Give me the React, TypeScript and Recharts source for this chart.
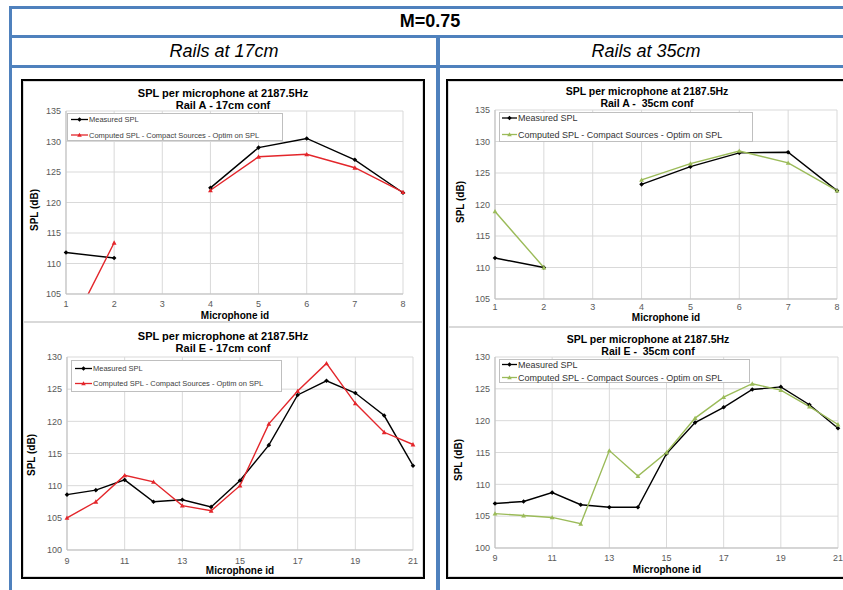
import React from 'react';
import { LineChart, Line, XAxis, YAxis, CartesianGrid, Legend } from 'recharts';

const FONT = '"Liberation Sans", Arial, Helvetica, sans-serif';
const BLUE = '#4f81bd';
const GRID = '#d9d9d9';
const AXIS = '#bfbfbf';
const RED = '#e3262b';
const GREEN = '#9bbb59';

// microphone ids
const railAMics = [1, 2, 3, 4, 5, 6, 7, 8];
const railEMics = [9, 10, 11, 12, 13, 14, 15, 16, 17, 18, 19, 20, 21];

// tick labels
const railATicks = [1, 2, 3, 4, 5, 6, 7, 8];
const railETicks = [9, 11, 13, 15, 17, 19, 21];
const railASplTicks = [105, 110, 115, 120, 125, 130, 135];
const railESplTicks = [100, 105, 110, 115, 120, 125, 130];

// SPL (dB), null = no microphone 3 on rail A
const railA17Measured = [111.8, 110.9, null, 122.4, 129.0, 130.5, 127.0, 121.6];
const railA17Computed = [97.8, 113.4, null, 122.0, 127.5, 127.9, 125.7, 121.7];
const railA35Measured = [111.5, 110.0, null, 123.2, 126.0, 128.2, 128.3, 122.2];
const railA35Computed = [118.9, 110.0, null, 123.9, 126.5, 128.5, 126.6, 122.2];

const railE17Measured = [108.6, 109.3, 110.9, 107.5, 107.8, 106.7, 110.8, 116.3, 124.1, 126.3, 124.4, 120.9, 113.1];
const railE17Computed = [105.0, 107.5, 111.6, 110.6, 106.9, 106.1, 110.0, 119.6, 124.7, 129.0, 122.8, 118.3, 116.4];
const railE35Measured = [107.0, 107.3, 108.7, 106.8, 106.4, 106.4, 114.8, 119.7, 122.1, 124.9, 125.3, 122.5, 118.8];
const railE35Computed = [105.4, 105.1, 104.8, 103.8, 115.3, 111.3, 115.0, 120.4, 123.7, 125.8, 124.8, 122.2, 119.4];

const MEASURED_LABEL = 'Measured SPL';
const COMPUTED_LABEL = 'Computed SPL - Compact Sources -  Optim on SPL';

type Row = { mic: number; measured: number | null; computed: number | null };

const buildRows = (mics: number[], measured: (number | null)[], computed: (number | null)[]): Row[] =>
  mics.map((mic, i) => ({ mic, measured: measured[i], computed: computed[i] }));

const diamond = (cx: number, cy: number, r: number) =>
  `M${cx},${cy - r}L${cx + r},${cy}L${cx},${cy + r}L${cx - r},${cy}Z`;
const triangle = (cx: number, cy: number, r: number) =>
  `M${cx},${cy - r}L${cx + r},${cy + r * 0.8}L${cx - r},${cy + r * 0.8}Z`;

const makeDot = (shape: 'diamond' | 'triangle', color: string) => (p: any) => {
  const { cx, cy, index, value } = p;
  if (cx == null || cy == null || value == null) return <g key={`n${index}`} />;
  const d = shape === 'diamond' ? diamond(cx, cy, 2.3) : triangle(cx, cy, 2.4);
  return <path key={`p${index}`} d={d} fill={color} stroke="none" />;
};

interface LegendBox {
  left: number;
  top: number;
  width: number;
  height: number;
  fontSize: number;
  rows: [number, number];
  sample: [number, number];
  textColor: string;
}

const legendContent = (box: LegendBox, computedColor: string) => () => {
  const [s0, s1] = box.sample;
  const mid = (s0 + s1) / 2;
  const entries = [
    { label: MEASURED_LABEL, color: '#000', shape: 'diamond' as const },
    { label: COMPUTED_LABEL, color: computedColor, shape: 'triangle' as const },
  ];
  return (
    <svg width={box.width} height={box.height} style={{ display: 'block' }}>
      <rect x={0.5} y={0.5} width={box.width - 1} height={box.height - 1} fill="#fff" stroke={AXIS} />
      {entries.map((e, i) => (
        <g key={e.label}>
          <line x1={s0} x2={s1} y1={box.rows[i]} y2={box.rows[i]} stroke={e.color} strokeWidth={1.3} />
          <path d={e.shape === 'diamond' ? diamond(mid, box.rows[i], 2.2) : triangle(mid, box.rows[i], 2.3)} fill={e.color} />
          <text x={s1 + 1} y={box.rows[i]} dy="0.35em" fontFamily={FONT} fontSize={box.fontSize} fill={box.textColor}>
            {e.label}
          </text>
        </g>
      ))}
    </svg>
  );
};

interface PanelProps {
  left: number;
  top: number;
  width: number;
  height: number;
  data: Row[];
  xDomain: [number, number];
  xTicks: number[];
  yDomain: [number, number];
  yTicks: number[];
  yAxisWidth: number;
  xAxisHeight: number;
  margin: { top: number; right: number; left: number; bottom: number };
  xTickGap: number;
  computedColor: string;
  legend: LegendBox;
}

function Panel(props: PanelProps) {
  const tickStyle = { fontSize: 9, fill: '#595959', fontFamily: FONT };
  return (
    <div style={{ position: 'absolute', left: props.left, top: props.top, width: props.width, height: props.height }}>
      <LineChart width={props.width} height={props.height} data={props.data} margin={props.margin}>
        <CartesianGrid stroke={GRID} strokeWidth={1} />
        <XAxis
          dataKey="mic"
          type="number"
          domain={props.xDomain}
          ticks={props.xTicks}
          interval={0}
          height={props.xAxisHeight}
          tick={tickStyle}
          tickLine={false}
          tickSize={props.xTickGap - 2}
          tickMargin={2}
          axisLine={{ stroke: AXIS }}
        />
        <YAxis
          type="number"
          domain={props.yDomain}
          ticks={props.yTicks}
          allowDataOverflow
          interval={0}
          width={props.yAxisWidth}
          tick={tickStyle}
          tickLine={false}
          tickSize={4}
          tickMargin={1}
          axisLine={{ stroke: AXIS }}
        />
        <Legend
          layout="horizontal"
          align="center"
          verticalAlign="middle"
          wrapperStyle={{
            left: props.legend.left,
            top: props.legend.top,
            width: props.legend.width,
            height: props.legend.height,
          }}
          content={legendContent(props.legend, props.computedColor)}
        />
        <Line
          type="linear"
          dataKey="measured"
          name={MEASURED_LABEL}
          stroke="#000"
          strokeWidth={1.4}
          dot={makeDot('diamond', '#000')}
          activeDot={false}
          isAnimationActive={false}
        />
        <Line
          type="linear"
          dataKey="computed"
          name={COMPUTED_LABEL}
          stroke={props.computedColor}
          strokeWidth={1.4}
          dot={makeDot('triangle', props.computedColor)}
          activeDot={false}
          isAnimationActive={false}
        />
      </LineChart>
      <div
        style={{
          position: 'absolute',
          left: 0,
          top: 0,
          width: props.width,
          height: props.height,
          boxSizing: 'border-box',
          border: `1px solid ${GRID}`,
          pointerEvents: 'none',
        }}
      />
    </div>
  );
}

// centred text block at page coordinates (cx, cy)
function Txt({
  cx,
  cy,
  text,
  size,
  bold,
  italic,
  rotate,
}: {
  cx: number;
  cy: number;
  text: string;
  size: number;
  bold?: boolean;
  italic?: boolean;
  rotate?: boolean;
}) {
  const h = Math.round(size * 1.2);
  return (
    <div
      style={{
        position: 'absolute',
        left: cx - 150,
        top: cy - h / 2,
        width: 300,
        height: h,
        lineHeight: `${h}px`,
        textAlign: 'center',
        fontFamily: FONT,
        fontSize: size,
        fontWeight: bold ? 'bold' : 'normal',
        fontStyle: italic ? 'italic' : 'normal',
        color: '#000',
        whiteSpace: 'pre',
        transform: rotate ? 'rotate(-90deg)' : undefined,
      }}
    >
      {text}
    </div>
  );
}

function Titles({ cx, y1, y2, rail, size = 11 }: { cx: number; y1: number; y2: number; rail: string; size?: number }) {
  return (
    <>
      <Txt cx={cx} cy={y1} text="SPL per microphone at 2187.5Hz" size={size} bold />
      <Txt cx={cx} cy={y2} text={rail} size={size} bold />
    </>
  );
}

function AxisTitles({ yx, yy, xx, xy }: { yx: number; yy: number; xx: number; xy: number }) {
  return (
    <>
      <Txt cx={yx} cy={yy} text="SPL (dB)" size={10} bold rotate />
      <Txt cx={xx} cy={xy} text="Microphone id" size={10} bold />
    </>
  );
}

const hLine = (top: number, left: number, width: number) => (
  <div style={{ position: 'absolute', left, top, width, height: 3, background: BLUE }} />
);
const vLine = (left: number, top: number, height: number, width = 3) => (
  <div style={{ position: 'absolute', left, top, width, height, background: BLUE }} />
);

export default function App() {
  const a17 = buildRows(railAMics, railA17Measured, railA17Computed);
  const a35 = buildRows(railAMics, railA35Measured, railA35Computed);
  const e17 = buildRows(railEMics, railE17Measured, railE17Computed);
  const e35 = buildRows(railEMics, railE35Measured, railE35Computed);

  return (
    <div
      style={{
        position: 'absolute',
        left: 0,
        top: 0,
        width: 843,
        height: 590,
        overflow: 'hidden',
        background: '#fff',
      }}
    >
      {hLine(6, 9, 840)}
      {hLine(35, 9, 840)}
      {hLine(65, 9, 840)}
      {vLine(9, 6, 590)}
      {vLine(436, 35, 560, 4)}

      <Txt cx={430} cy={21} text="M=0.75" size={18} bold />
      <Txt cx={224} cy={51} text="Rails at 17cm" size={18} italic />
      <Txt cx={646} cy={51} text="Rails at 35cm" size={18} italic />

      <div
        style={{
          position: 'absolute',
          left: 21,
          top: 79,
          width: 404,
          height: 500,
          boxSizing: 'border-box',
          border: '2px solid #000',
        }}
      />
      <div
        style={{
          position: 'absolute',
          left: 446,
          top: 79,
          width: 420,
          height: 500,
          boxSizing: 'border-box',
          border: '2px solid #000',
        }}
      />

      <Panel
        left={23}
        top={81}
        width={400}
        height={241}
        data={a17}
        xDomain={[1, 8]}
        xTicks={railATicks}
        yDomain={[105, 135]}
        yTicks={railASplTicks}
        yAxisWidth={43}
        xAxisHeight={28}
        margin={{ top: 30, right: 20, left: 0, bottom: 0 }}
        xTickGap={7}
        computedColor={RED}
        legend={{ left: 44, top: 32, width: 216, height: 28, fontSize: 7.5, rows: [6.5, 22], sample: [4, 21], textColor: '#404040' }}
      />
      <Titles cx={223} y1={93.5} y2={105.5} rail="Rail A - 17cm conf" />
      <AxisTitles yx={35} yy={210} xx={235} xy={316} />

      <Panel
        left={23}
        top={322}
        width={400}
        height={255}
        data={e17}
        xDomain={[9, 21]}
        xTicks={railETicks}
        yDomain={[100, 130]}
        yTicks={railESplTicks}
        yAxisWidth={44}
        xAxisHeight={27}
        margin={{ top: 35, right: 10, left: 0, bottom: 0 }}
        xTickGap={8}
        computedColor={RED}
        legend={{ left: 48, top: 38, width: 211, height: 32, fontSize: 7.5, rows: [8.5, 23.5], sample: [4, 21], textColor: '#404040' }}
      />
      <Titles cx={223} y1={336} y2={348.5} rail="Rail E - 17cm conf" />
      <AxisTitles yx={32} yy={455} xx={240} xy={571} />

      <Panel
        left={448}
        top={81}
        width={401}
        height={246}
        data={a35}
        xDomain={[1, 8]}
        xTicks={railATicks}
        yDomain={[105, 135]}
        yTicks={railASplTicks}
        yAxisWidth={47}
        xAxisHeight={28}
        margin={{ top: 29, right: 12, left: 0, bottom: 0 }}
        xTickGap={5}
        computedColor={GREEN}
        legend={{ left: 51, top: 31, width: 254, height: 30, fontSize: 9, rows: [6, 22.5], sample: [3, 18], textColor: '#333' }}
      />
      <Titles cx={647} y1={91.5} y2={103} rail="Rail A -  35cm conf" size={10.5} />
      <AxisTitles yx={461} yy={202} xx={666} xy={318} />

      <Panel
        left={448}
        top={327}
        width={401}
        height={250}
        data={e35}
        xDomain={[9, 21]}
        xTicks={railETicks}
        yDomain={[100, 130]}
        yTicks={railESplTicks}
        yAxisWidth={47}
        xAxisHeight={29}
        margin={{ top: 30, right: 11, left: 0, bottom: 0 }}
        xTickGap={7}
        computedColor={GREEN}
        legend={{ left: 51, top: 32, width: 251, height: 24, fontSize: 9, rows: [5.5, 18.5], sample: [3, 18], textColor: '#333' }}
      />
      <Titles cx={648} y1={339.5} y2={351} rail="Rail E -  35cm conf" size={10.5} />
      <AxisTitles yx={459} yy={460} xx={667} xy={570} />
    </div>
  );
}
